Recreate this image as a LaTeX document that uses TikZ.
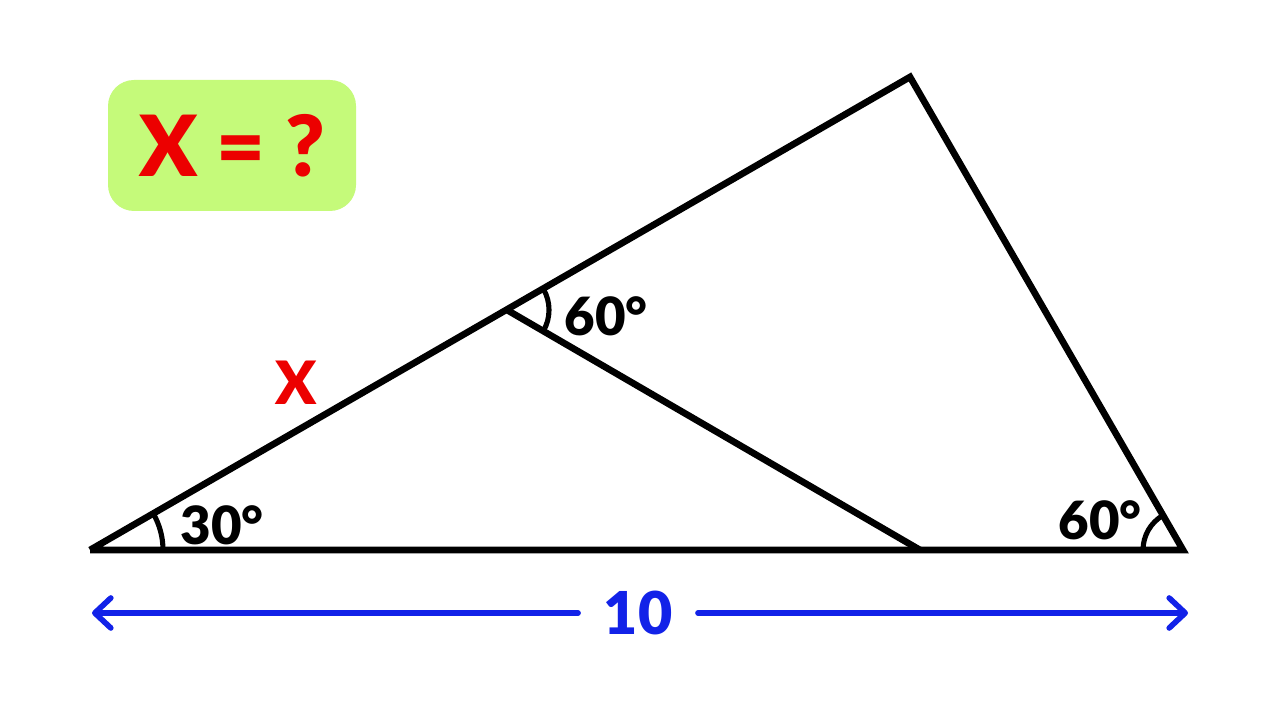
\documentclass[tikz,border=0pt]{standalone}
\usepackage{fontspec}
\setmainfont{Lato}[BoldFont={Lato Black}]
\usetikzlibrary{arrows.meta}
\definecolor{boxgreen}{RGB}{197,250,122}
\definecolor{qred}{RGB}{236,0,0}
\definecolor{dimblue}{RGB}{18,34,232}
\tikzset{
    edge/.style={line width=1.9pt},
    anglearc/.style={line width=1.45pt},
    anglelabel/.style={font=\fontsize{15}{15}\selectfont\bfseries, inner sep=0pt},
    qbox/.style={fill=boxgreen, rounded corners=0.26cm, minimum width=2.48cm, minimum height=1.31cm, inner sep=0pt,
        text=qred, font=\fontsize{24}{24}\selectfont\bfseries},
    dim/.style={dimblue, line width=1.6pt, line cap=round, -{Straight Barb[round, length=1.6mm, width=3mm]}},
    dimlabel/.style={text=dimblue, font=\fontsize{16.8}{16.8}\selectfont\bfseries, inner sep=0.25cm}
}
\begin{document}
\begin{tikzpicture}
        \useasboundingbox (0,0) rectangle (12.8,7.2);
        \coordinate (A) at (0.90,1.70);
        \coordinate (B) at (11.83,1.70);
        \coordinate (C) at (9.10,6.43);
        \coordinate (D) at (5.07,4.10);
        \coordinate (E) at (9.20,1.70);

        \draw[edge] (A) -- (B) -- (C) -- (A);
        \draw[edge] (D) -- (E);

        % angle marks
        \draw[anglearc] ([shift={(0:0.73)}]A) arc (0:30:0.73);
        \draw[anglearc] ([shift={(120:0.40)}]B) arc (120:180:0.40);
        \draw[anglearc] ([shift={(-30:0.42)}]D) arc (-30:30:0.42);

        \node[anglelabel] (a30) at (2.22,1.95) {30°};
        \node[anglelabel] (d60) at (6.06,4.04) {60°};
        \node[anglelabel] (b60) at (11.00,2.00) {60°};
        \node[text=qred, font=\fontsize{17}{17}\selectfont\bfseries] (x) at (2.96,3.37) {X};

        \node[qbox] (q) at (2.32,5.745) {X = ?};

        % base length
        \node[dimlabel] (ten) at (6.38,1.07) {10};
        \coordinate (L) at (0.92,1.07);
        \coordinate (R) at (11.88,1.07);
        \draw[dim] (ten) -- (L);
        \draw[dim] (ten) -- (R);
\end{tikzpicture}
\end{document}
